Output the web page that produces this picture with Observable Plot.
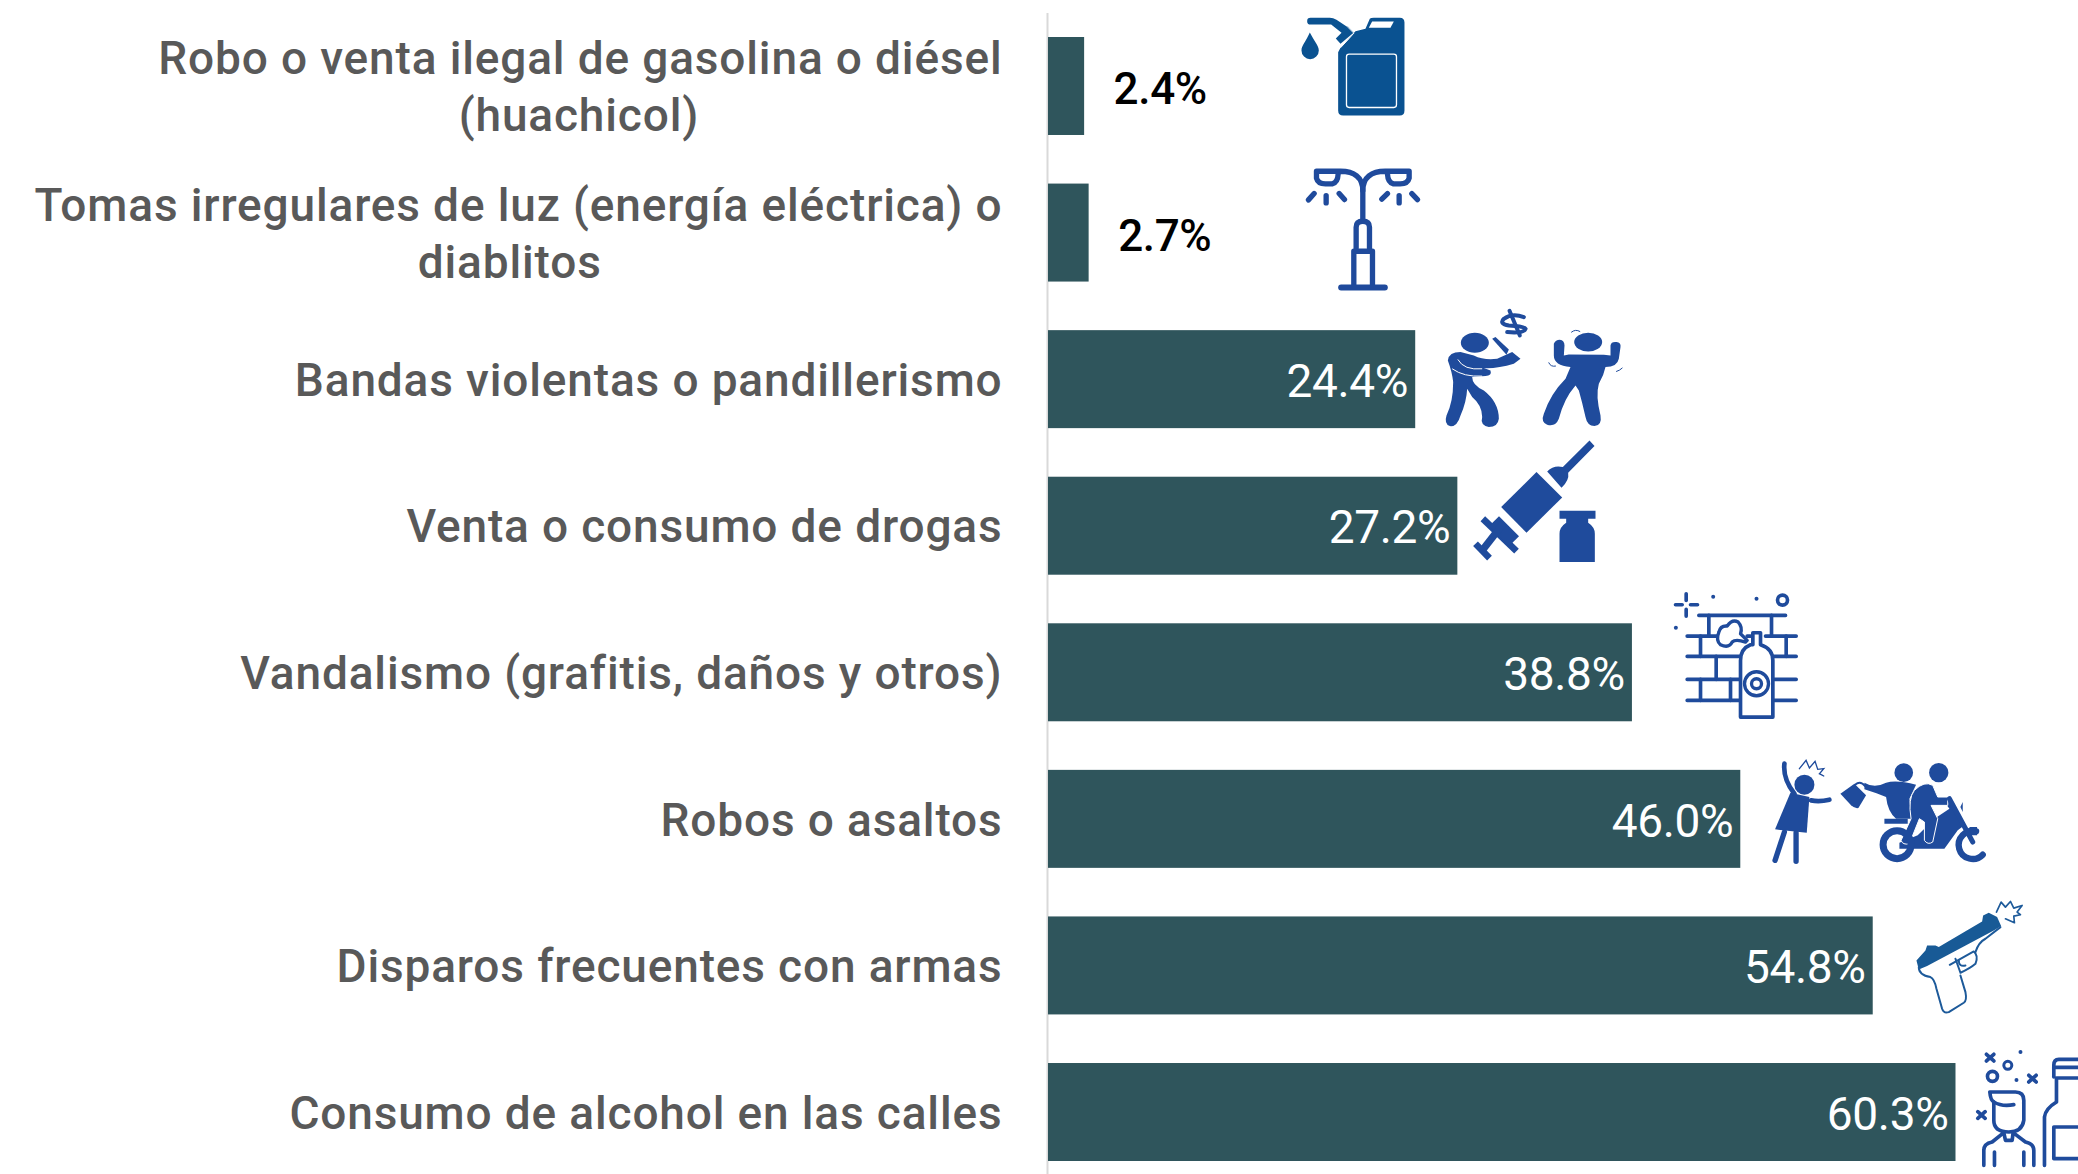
<!DOCTYPE html>
<html lang="es">
<head>
<meta charset="utf-8">
<script src="https://cdn.jsdelivr.net/npm/d3@7"></script>
<script src="https://cdn.jsdelivr.net/npm/@observablehq/plot@0.6"></script>
<style>
html,body{margin:0;padding:0;background:#fff;overflow:hidden}
svg{display:block}
.cat-label text{letter-spacing:0.85px}
.val-label text{letter-spacing:-0.35px}
</style>
</head>
<body>
<div id="chart"></div>
<script>
const categories = ["huachicol","diablitos","bandas","drogas","vandalismo","robos","disparos","alcohol"];
const firstLines = [
  "Robo o venta ilegal de gasolina o diésel",
  "Tomas irregulares de luz (energía eléctrica) o",
  "Bandas violentas o pandillerismo",
  "Venta o consumo de drogas",
  "Vandalismo (grafitis, daños y otros)",
  "Robos o asaltos",
  "Disparos frecuentes con armas",
  "Consumo de alcohol en las calles"
];
const secondLines = ["(huachicol)","diablitos","","","","","",""];
const values = [2.4,2.7,24.4,27.2,38.8,46.0,54.8,60.3];

const BLUE = "#1f4b9c";
const svgIcon = (vb, inner) => "data:image/svg+xml;charset=utf-8," + encodeURIComponent(
  `<svg xmlns="http://www.w3.org/2000/svg" viewBox="${vb}" preserveAspectRatio="none">${inner}</svg>`);

const jerry = svgIcon("0 0 420 345", `
<g fill="#0a5291">
<path d="M150 112 L195 62 L225 55 L238 25 Q240 22 250 22 L328 22 Q342 22 342 36 L342 300 Q342 315 328 315 L158 315 Q143 315 143 300 L143 125 Z"/>
<path d="M60 22 L118 22 Q128 22 138 28 L172 50 L155 68 L122 42 L60 42 Q50 42 50 32 Q50 22 60 22Z"/>
<path d="M136 84 L172 48 L190 66 L150 100Z"/>
<path d="M58 66 C70 90 85 105 85 120 A26 26 0 1 1 33 120 C33 105 48 90 58 66Z"/>
</g>
<path d="M245 33 L310 33 L300 52 L235 52Z" fill="#fff"/>
<path d="M150 112 L175 85 L190 68 L172 50" fill="none" stroke="#fff" stroke-width="3"/>
<rect x="168" y="131" width="150" height="160" rx="8" fill="none" stroke="#fff" stroke-width="4"/>`);

const lamp = svgIcon("0 450 420 405", `
<g fill="none" stroke="#1f4a9c" stroke-width="16" stroke-linecap="round" stroke-linejoin="round">
<path d="M217 630 L217 540 C217 500 190 482 150 482 L78 482 L78 503 Q82 520 105 520 L125 520 Q142 516 143 490"/>
<path d="M217 540 C217 500 244 482 284 482 L356 482 L356 503 Q352 520 329 520 L309 520 Q292 516 291 490"/>
<path d="M54 568 L71 549 M107 555 L107 577 M146 549 L162 567 M274 566 L291 549 M326 555 L326 577 M364 549 L381 567"/>
<path d="M197 712 L197 650 Q197 632 217 632 Q237 632 237 650 L237 712"/>
<path d="M190 825 L190 722 L246 722 L246 825"/>
<path d="M152 831 L283 831" stroke-width="18"/>
</g>`);

const bandas = svgIcon("0 0 570 390", `
<g fill="${BLUE}">
<ellipse cx="103" cy="112" rx="42" ry="30"/>
<path d="M22 165 Q25 140 60 140 L100 150 Q130 165 170 160 L215 140 L240 160 L220 175 Q170 190 130 188 L150 195 Q155 210 135 212 L95 215 Q95 240 130 255 Q175 290 175 340 Q172 365 145 365 Q118 360 125 335 Q125 300 95 275 L80 250 Q78 290 60 330 Q50 365 28 362 Q10 355 18 330 Q38 290 38 230 Q35 200 22 165Z"/>
<path d="M155 100 L165 95 L205 132 L198 148Z"/>
<ellipse cx="443" cy="110" rx="42" ry="28"/>
<path d="M340 115 Q345 103 358 103 Q372 105 372 120 L370 150 L385 147 L490 148 L510 150 L510 120 Q512 108 528 110 Q542 112 540 125 L535 160 Q530 185 495 185 Q490 210 475 235 Q465 270 480 330 Q485 360 462 362 Q440 362 435 335 Q425 290 415 255 L405 240 Q370 280 355 340 Q345 365 320 358 Q300 350 310 325 Q330 265 375 220 L390 185 Q340 180 340 150Z"/>
</g>
<g fill="none" stroke="#fff" stroke-width="3"><path d="M52 162 Q70 195 125 190"/><path d="M35 190 Q70 215 125 212"/></g>
<g fill="none" stroke="${BLUE}" stroke-linecap="round">
<path d="M250 35 Q215 22 190 40 Q175 55 205 60 Q250 62 255 70 Q250 85 200 80" stroke-width="12"/>
<path d="M207 16 L238 90" stroke-width="12"/>
<path d="M393 80 Q405 70 418 78 M325 172 Q330 185 345 182 M528 198 Q538 195 545 188" stroke-width="3"/>
</g>`);

const jeringa = svgIcon("0 0 420 405", `
<g fill="${BLUE}">
<path d="M213 110 L290 186 L183 292 L107 215Z"/>
<path d="M245 108 Q265 88 292 95 L372 15 L387 32 L308 112 Q312 135 288 157Z"/>
<path d="M282 226 L390 226 L390 250 L368 250 L368 262 Q388 275 388 295 L388 380 L282 380 L282 295 Q282 275 302 262 L302 250 L282 250Z"/>
</g>
<g fill="none" stroke="${BLUE}">
<path d="M52 250 L153 347" stroke-width="20"/>
<path d="M85 258 L145 318" stroke-width="44"/>
<path d="M115 262 L50 345" stroke-width="22"/>
<path d="M30 325 L72 368" stroke-width="20"/>
</g>`);

const vandal = svgIcon("0 0 420 420", `
<g fill="none" stroke="${BLUE}" stroke-width="11" stroke-linecap="round" stroke-linejoin="round">
<path d="M62 25 L62 45 M62 72 L62 92 M30 58 L50 58 M75 58 L96 58"/>
<circle cx="351" cy="44" r="15" stroke-width="11"/>
<path d="M100 90 L360 90 M65 152 L155 152 M245 152 L255 152 M300 152 L392 152 M65 213 L230 213 M320 213 L392 213 M65 282 L230 282 M320 282 L392 282 M65 345 L230 345 M320 345 L392 345"/>
<path d="M130 90 L130 150 M318 90 L318 152 M105 152 L105 213 M362 152 L362 213 M152 213 L152 282 M105 282 L105 345 M195 282 L195 345"/>
<path d="M165 178 Q150 165 160 140 Q165 120 185 122 Q200 100 218 110 Q232 125 225 145 L245 165 L240 170 Q210 160 200 170 Q190 190 165 178Z" fill="#fff" stroke-width="10"/>
<path d="M225 395 L225 225 Q225 190 255 178 L262 178 L262 142 L285 142 L285 178 Q322 190 322 225 L322 395Z" fill="#fff"/>
<circle cx="273" cy="295" r="36" stroke-width="10"/>
<circle cx="273" cy="295" r="15" stroke-width="10"/>
</g>
<g fill="${BLUE}"><circle cx="143" cy="34" r="6"/><circle cx="273" cy="40" r="6"/><circle cx="31" cy="127" r="6"/></g>`);

const asalto = svgIcon("0 0 660 345", `
<g fill="${BLUE}">
<circle cx="110" cy="88" r="30"/>
<path d="M68 112 L125 125 L117 232 L22 222Z"/>
<circle cx="408" cy="52" r="28"/>
<path d="M218 115 L260 85 L295 120 L272 158 Q260 160 250 150Z"/>
<path d="M290 82 Q320 100 355 82 Q385 72 445 88 L425 130 L430 190 L385 190 Q360 170 355 125 Q330 115 290 102Z"/>
<circle cx="513" cy="52" r="29"/>
<path d="M520 125 L545 125 L590 210 L570 225 L530 280 L395 280 L395 262 L450 240 L500 190 L545 160Z"/>
<path d="M350 190 L420 190 L420 205 L350 205Z"/>
<path d="M585 140 L578 155 L585 170Z"/>
<path d="M605 215 L628 215 L628 240 L610 240Z"/>
<path d="M440 105 Q470 75 495 90 L510 125 L540 125 L540 150 L490 150 L510 190 L495 260 Q480 270 470 255 L470 200 L455 190 L425 265 Q405 270 400 255 L430 190 Q420 130 440 105Z" stroke="#fff" stroke-width="3"/>
</g>
<g fill="none" stroke="${BLUE}" stroke-linecap="round">
<path d="M50 25 Q45 70 80 115" stroke-width="14"/>
<path d="M130 135 Q155 140 185 133" stroke-width="14"/>
<path d="M50 230 L22 315 M85 232 L85 318" stroke-width="16"/>
<path d="M95 40 L115 15 L125 38 L142 18 L150 42 L168 40 L155 55 L168 62" stroke-width="4"/>
<path d="M262 88 Q278 75 292 92" stroke-width="6"/>
<circle cx="388" cy="268" r="42" stroke-width="21"/>
<path d="M625 228 A42 42 0 1 0 645 298" stroke-width="19"/>
<path d="M545 130 L615 260" stroke-width="15"/>
</g>`);

const PIST = "#1d5a9a";
const pistola = svgIcon("0 0 360 375", `
<path d="M18 195 L45 165 L50 150 L75 150 L85 155 L215 78 L218 60 L235 52 L260 65 L272 92 L250 105 L50 212 L25 222Z" fill="#185a96"/>
<g fill="none" stroke="${PIST}" stroke-width="6" stroke-linejoin="round" stroke-linecap="round">
<path d="M25 215 Q25 240 60 245 Q72 250 78 280 L95 340 Q100 355 115 350 L160 322 Q170 315 165 290 L150 240"/>
<path d="M118 208 L190 168 Q205 180 195 205 Q180 218 150 232 L135 190"/>
<path d="M145 195 Q145 215 165 210"/>
<path d="M195 170 Q205 140 225 130 L270 95"/>
<path d="M258 50 L272 20 L285 35 L300 18 L310 38 L335 30 L320 50 L330 58 L310 62 L312 82 L285 70" stroke-width="5"/>
</g>`);

const alcoholIcon = svgIcon("0 0 324 387", `
<g fill="none" stroke="${BLUE}" stroke-width="11" stroke-linecap="round" stroke-linejoin="round">
<path d="M48 27 L70 47 M70 27 L48 47 M175 90 L197 110 M197 90 L175 110 M22 199 L44 219 M44 199 L22 219" stroke-width="11"/>
<circle cx="66" cy="93" r="15" stroke-width="11"/>
<circle cx="112" cy="60" r="12" stroke-width="9"/>
<path d="M58 140 L135 140 Q160 140 160 165 L160 225 Q155 260 115 260 Q70 260 70 225 L70 170 Q60 165 58 140Z"/>
<path d="M70 170 Q95 185 130 178"/>
<path d="M40 360 L40 315 Q40 295 65 290 L100 262 M128 262 L165 290 Q190 295 190 315 L190 360 M100 262 L105 285 L125 285 L128 262 M72 320 L72 360 M160 320 L160 360"/>
<path d="M222 360 L222 215 Q225 190 258 170 L258 98 L330 98 M250 95 L250 60 Q250 42 265 42 L330 42 M250 66 L330 66 M250 245 L330 245 M250 245 L250 340 L330 340"/>
</g>
<g fill="${BLUE}"><circle cx="150" cy="20" r="6"/><circle cx="138" cy="104" r="6"/></g>`);

// decorative pictograms: position in percentage units, size and offset in pixels
const icons = [
  {cat:"huachicol",  src:jerry,       at:20.73, w:140, h:115, dy:-18.5},
  {cat:"diablitos",  src:lamp,        at:20.73, w:140, h:135, dy:-5},
  {cat:"bandas",     src:bandas,      at:32.36, w:190, h:130, dy:-9.2},
  {cat:"drogas",     src:jeringa,     at:32.36, w:140, h:135, dy:-23.3},
  {cat:"vandalismo", src:vandal,      at:45.65, w:140, h:140, dy:-17.4},
  {cat:"robos",      src:asalto,      at:55.1,  w:220, h:115, dy:-6.5},
  {cat:"disparos",   src:pistola,     at:61.26, w:120, h:125, dy:-8},
  {cat:"alcohol",    src:alcoholIcon, at:64.85, w:108, h:129, dy:-2.7}
];

const rows = categories.map((cat,i)=>({cat,first:firstLines[i],second:secondLines[i],value:values[i]}));
const single = rows.filter(d=>!d.second);
const wrapped = rows.filter(d=>d.second);
const inside = rows.filter(d=>d.value>=10);
const outside = rows.filter(d=>d.value<10);
const secondAt = {huachicol:-31.2, diablitos:-35.8};

const labelFont = {fontFamily:"Roboto, sans-serif", fontSize:46, fill:"#595959", fontWeight:500, className:"cat-label"};
const valueFont = {fontFamily:"Roboto, sans-serif", className:"val-label"};
const fmt = d=>d.value.toFixed(1)+"%";

const chart = Plot.plot({
  width:2078, height:1174,
  marginLeft:1048, marginRight:0, marginTop:13, marginBottom:0,
  style:{background:"#fff"},
  x:{domain:[0,68.44], axis:null},
  y:{domain:categories, range:[37,1161], paddingInner:0.3315, paddingOuter:0, round:false, axis:null},
  marks:[
    Plot.ruleX([0],{stroke:"#d9d9d9",strokeWidth:2,dx:-1}),
    Plot.barX(rows,{x:"value",y:"cat",fill:"#2f555c"}),
    Plot.text(single,{x:0,y:"cat",text:"first",textAnchor:"end",dx:-46,dy:1.5,...labelFont}),
    Plot.text(wrapped,{x:0,y:"cat",text:"first",textAnchor:"end",dx:-46,dy:-27,...labelFont}),
    Plot.text(wrapped,{x:d=>secondAt[d.cat],y:"cat",text:"second",textAnchor:"middle",dy:30,...labelFont}),
    Plot.text(inside,{x:"value",y:"cat",text:fmt,textAnchor:"end",dx:-7.5,dy:2.5,fill:"#fff",fontSize:46,...valueFont}),
    Plot.text(outside,{x:"value",y:"cat",text:fmt,textAnchor:"start",dx:29,dy:3.5,fill:"#000",fontWeight:500,fontSize:44,...valueFont}),
    ...icons.map(ic=>Plot.image([ic],{x:"at",y:"cat",src:"src",width:ic.w,height:ic.h,dy:ic.dy,preserveAspectRatio:"none"}))
  ]
});
document.getElementById("chart").append(chart);
</script>
</body>
</html>
